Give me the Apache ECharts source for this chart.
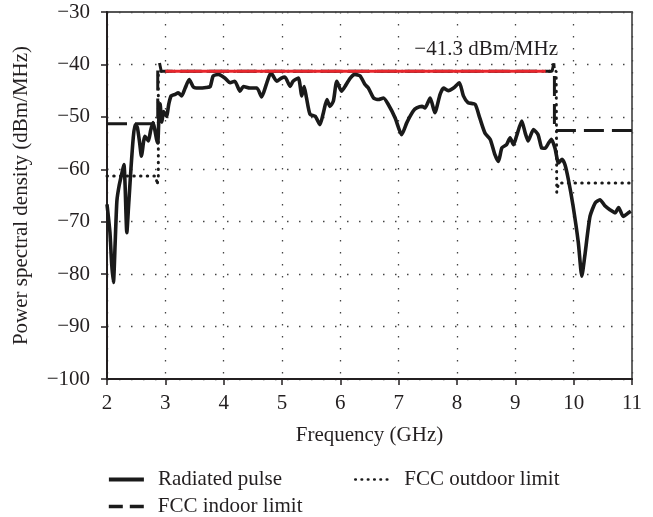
<!DOCTYPE html>
<html>
<head>
<meta charset="utf-8">
<script src="https://cdn.jsdelivr.net/npm/echarts@6/dist/echarts.min.js"></script>
<style>
html,body{margin:0;padding:0;background:#fff;}
#c{width:653px;height:517px;}
</style>
</head>
<body>
<div id="c"></div>
<script>
// Radiated pulse [GHz, dBm/MHz]
const pulse = [
[2.00,-66.7],[2.05,-72],[2.08,-78],[2.11,-81.6],[2.14,-74],[2.17,-66],[2.21,-63],[2.26,-60.5],[2.29,-59.1],
[2.31,-63],[2.34,-72.1],[2.37,-67],[2.41,-60],[2.45,-54],[2.48,-51.5],[2.52,-52],[2.56,-55],[2.59,-57.5],
[2.63,-54.5],[2.65,-53.7],[2.69,-54.3],[2.71,-54.6],[2.75,-52.5],[2.79,-51.1],[2.82,-52.5],[2.85,-54.3],
[2.87,-55],[2.89,-50],[2.91,-47.5],[2.94,-51],[2.97,-49],[3.02,-49.9],[3.06,-47.5],[3.10,-46],[3.17,-45.7],
[3.22,-45.4],[3.28,-46],[3.34,-44.5],[3.41,-42.9],[3.48,-44.3],[3.57,-44.5],[3.70,-44.4],[3.77,-44.2],
[3.82,-42.2],[3.91,-41.9],[4.02,-42.6],[4.11,-43.5],[4.19,-43.2],[4.28,-45.1],[4.34,-44.2],[4.45,-44.5],
[4.57,-44.5],[4.65,-46.2],[4.74,-43.5],[4.81,-41.6],[4.91,-43.2],[4.99,-42.6],[5.05,-42.4],[5.14,-44.2],
[5.19,-43.2],[5.28,-42.6],[5.34,-46],[5.38,-44.2],[5.42,-46.4],[5.48,-49.5],[5.57,-49.9],[5.65,-51.5],
[5.71,-49.2],[5.77,-46.7],[5.82,-48],[5.88,-47],[5.94,-43.2],[6.02,-45.1],[6.08,-44.2],[6.17,-42.6],
[6.25,-41.9],[6.34,-42.2],[6.42,-43.8],[6.48,-44.5],[6.57,-46.4],[6.65,-46.7],[6.74,-46.4],[6.82,-47.6],
[6.94,-50.2],[7.05,-53.4],[7.14,-51.1],[7.25,-48.9],[7.31,-48.3],[7.40,-48],[7.45,-48.3],[7.54,-46.4],
[7.62,-49.2],[7.71,-45.7],[7.77,-44.5],[7.85,-45],[7.94,-44.5],[8.04,-43.5],[8.11,-46],[8.19,-47.3],
[8.31,-47.6],[8.39,-50.2],[8.48,-53.1],[8.57,-54.3],[8.65,-57.2],[8.71,-58.5],[8.77,-55.9],[8.85,-55.3],
[8.91,-54],[8.97,-55.3],[9.02,-53.7],[9.11,-50.8],[9.17,-53.1],[9.22,-54.6],[9.31,-52.4],[9.39,-53.4],
[9.45,-55.9],[9.51,-56],[9.57,-55],[9.62,-54.3],[9.68,-56],[9.74,-58.8],[9.80,-58.1],[9.85,-59.1],
[9.91,-62],[9.99,-67],[10.08,-74],[10.14,-80.4],[10.19,-76.6],[10.28,-69],[10.37,-66.4],[10.45,-65.8],
[10.54,-67],[10.62,-67.7],[10.71,-68.3],[10.77,-67.3],[10.85,-69],[10.94,-68.3],[10.98,-68]
];
// FCC indoor limit
const indoor = [
[2.00,-51.3],[2.87,-51.3],[2.87,-40.5],[2.90,-39.7],[2.93,-41.3],[9.63,-41.3],[9.66,-39.8],[9.67,-41.3],
[9.67,-52.6],[11.0,-52.6]
];
// FCC outdoor limit
const outdoor = [
[2.00,-61.3],[2.84,-61.3],[2.86,-63.0],[2.88,-61.5],[2.88,-41.3],[9.70,-41.3],[9.71,-64.4],[9.74,-62.6],
[11.0,-62.6]
];
// Highlighted level
const level = [[3.00,-41.3],[9.52,-41.3]];
const levelLabel = [[8.5,-37.2]];
const levelText = '\u221241.3 dBm/MHz';

const xTicks = {min:2, max:11, interval:1};
const yTicks = {min:-100, max:-30, interval:10};

const FONT = 'Liberation Serif';
const FS = 21;
const TXT = '#231f20';
const minus = v => String(v).replace('-', '\u2212');

const chart = echarts.init(document.getElementById('c'));
const grid = {left:107, right:21, top:12, bottom:138};
function legendAt(id, left, top, item) {
  return {
    id: id, left: left, top: top, orient: 'horizontal', padding: 0,
    itemWidth: 35, itemHeight: 14, itemGap: 0,
    selectedMode: false,
    itemStyle: {opacity: 0},
    textStyle: {fontFamily: FONT, fontSize: FS, color: TXT, padding: [0, 0, 0, 9]},
    data: [item]
  };
}
chart.setOption({
  animation:false,
  backgroundColor:'#fff',
  grid:Object.assign({show:true, borderColor:'#555', borderWidth:1.8}, grid),
  legend:[
    legendAt('l0', 107, 469, {name:'Radiated pulse', lineStyle:{width:3.8}}),
    legendAt('l1', 354, 469, {name:'FCC outdoor limit', lineStyle:{width:2.6, type:[0.5,5.8], cap:'round'}}),
    legendAt('l2', 107, 496, {name:'FCC indoor limit', lineStyle:{width:3.6, type:[14,7]}})
  ],
  xAxis:{
    type:'value', min:xTicks.min, max:xTicks.max, interval:xTicks.interval,
    name:'Frequency (GHz)', nameLocation:'middle', nameGap:46,
    nameTextStyle:{fontFamily:FONT, fontSize:FS, color:TXT},
    axisLine:{lineStyle:{color:TXT, width:2}},
    axisTick:{inside:false, length:6, lineStyle:{color:TXT, width:1.5}},
    axisLabel:{fontFamily:FONT, fontSize:FS, color:TXT, margin:14},
    splitLine:{show:true, lineStyle:{type:[1.5,10.5], color:'#444', width:1.3}}
  },
  yAxis:{
    type:'value', min:yTicks.min, max:yTicks.max, interval:yTicks.interval,
    name:'Power spectral density (dBm/MHz)', nameLocation:'middle', nameGap:75,
    nameTextStyle:{fontFamily:FONT, fontSize:FS, color:TXT},
    axisLine:{show:true, lineStyle:{color:TXT, width:2}},
    axisTick:{show:true, inside:false, length:6, lineStyle:{color:TXT, width:1.5}},
    axisLabel:{fontFamily:FONT, fontSize:FS, color:TXT, margin:17, formatter:minus},
    splitLine:{show:true, lineStyle:{type:[1.5,10.5], color:'#444', width:1.3}}
  },
  series:[
    {name:'FCC indoor limit', type:'line', data:indoor, symbol:'none', z:2,
     lineStyle:{color:'#1a1a1a', width:3, type:[20,8]}, itemStyle:{color:'#1a1a1a'}},
    {name:'FCC outdoor limit', type:'line', data:outdoor, symbol:'none', z:2,
     lineStyle:{color:'#1a1a1a', width:3, type:[0.5,6.2], cap:'round'}, itemStyle:{color:'#1a1a1a'}},
    {name:'Radiated pulse', type:'line', data:pulse, symbol:'none', smooth:0.2, z:3,
     lineStyle:{color:'#1a1a1a', width:3.6, join:'round'}, itemStyle:{color:'#1a1a1a'}},
    {name:'level', type:'line', data:level, symbol:'none', z:4,
     lineStyle:{color:'#e8262c', width:3}},
    {name:'levelText', type:'scatter', data:levelLabel, symbolSize:0, z:5,
     itemStyle:{opacity:1},
     label:{show:true, position:'inside', formatter:levelText, fontFamily:FONT, fontSize:FS, color:TXT, opacity:1}}
  ]
});
</script>
</body>
</html>
